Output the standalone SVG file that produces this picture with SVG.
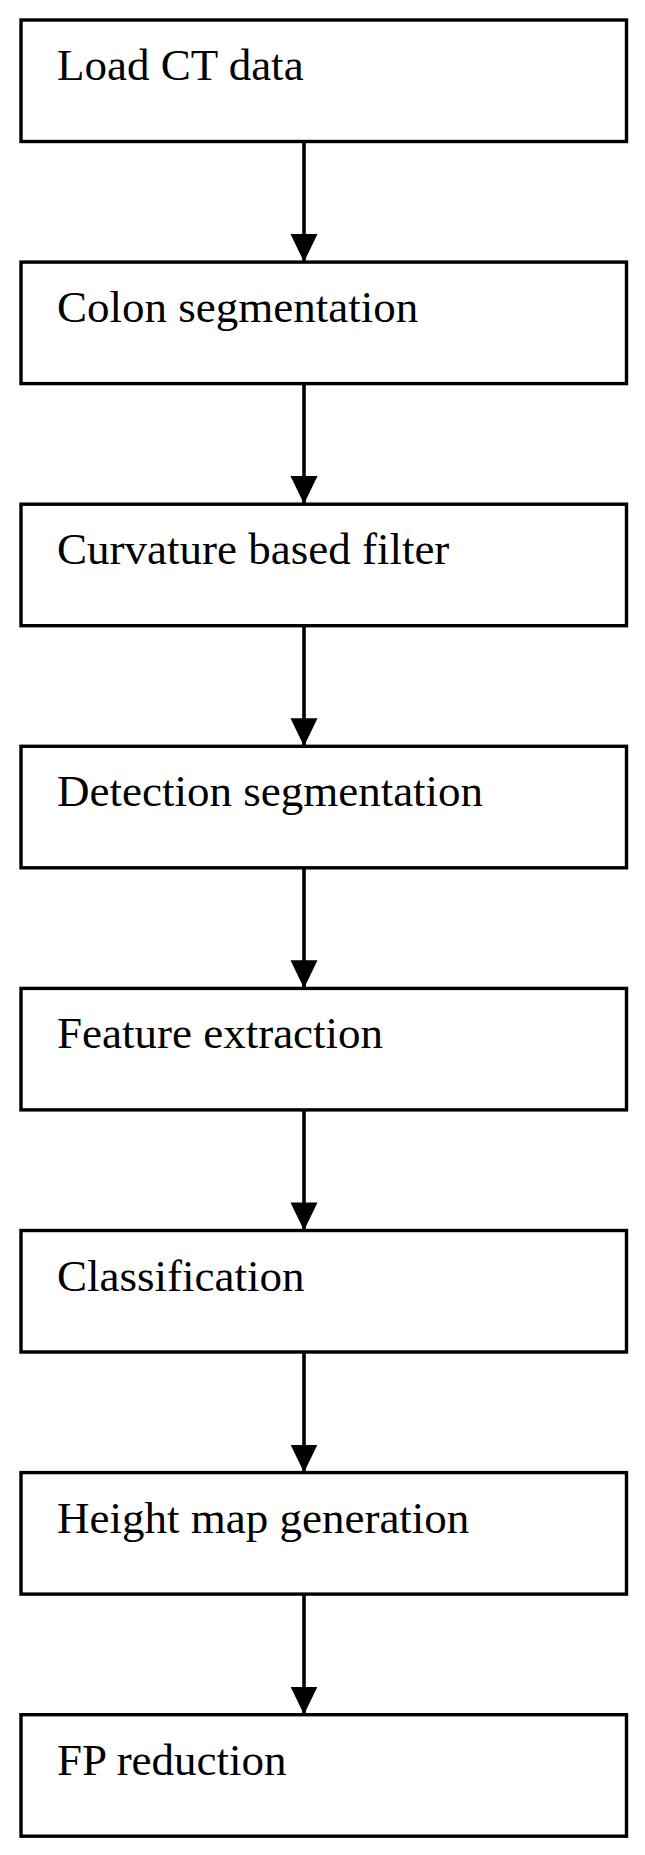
<svg xmlns="http://www.w3.org/2000/svg" width="645" height="1855" viewBox="0 0 645 1855">
<style>
.box{fill:#fff;stroke:#000;stroke-width:3.4}
.lbl{font-family:"Liberation Serif","Times New Roman",serif;font-size:45px;fill:#000}
.con{stroke:#000;stroke-width:3.6;fill:none}
</style>
<defs>
<marker id="ah" markerUnits="userSpaceOnUse" markerWidth="29" markerHeight="30" refX="28" refY="13.5" orient="auto" viewBox="0 0 29 27">
<path d="M0,0 L28,13.5 L0,27 Z" fill="#000"/>
</marker>
</defs>
<rect width="645" height="1855" fill="#fff"/>
<g id="connectors">
<line class="con" x1="304" y1="141.5" x2="304" y2="262" marker-end="url(#ah)"/>
<line class="con" x1="304" y1="383.6" x2="304" y2="504.1" marker-end="url(#ah)"/>
<line class="con" x1="304" y1="625.7" x2="304" y2="746.2" marker-end="url(#ah)"/>
<line class="con" x1="304" y1="867.8" x2="304" y2="988.3" marker-end="url(#ah)"/>
<line class="con" x1="304" y1="1109.9" x2="304" y2="1230.4" marker-end="url(#ah)"/>
<line class="con" x1="304" y1="1352" x2="304" y2="1472.5" marker-end="url(#ah)"/>
<line class="con" x1="304" y1="1594.1" x2="304" y2="1714.6" marker-end="url(#ah)"/>
</g>
<g id="n1"><rect class="box" x="21" y="20" width="605.5" height="121.5"/><text class="lbl" x="57" y="80">Load CT data</text></g>
<g id="n2"><rect class="box" x="21" y="262.1" width="605.5" height="121.5"/><text class="lbl" x="57" y="322.1">Colon segmentation</text></g>
<g id="n3"><rect class="box" x="21" y="504.2" width="605.5" height="121.5"/><text class="lbl" x="57" y="564.2">Curvature based filter</text></g>
<g id="n4"><rect class="box" x="21" y="746.3" width="605.5" height="121.5"/><text class="lbl" x="57" y="806.3">Detection segmentation</text></g>
<g id="n5"><rect class="box" x="21" y="988.4" width="605.5" height="121.5"/><text class="lbl" x="57" y="1048.4">Feature extraction</text></g>
<g id="n6"><rect class="box" x="21" y="1230.5" width="605.5" height="121.5"/><text class="lbl" x="57" y="1290.5">Classification</text></g>
<g id="n7"><rect class="box" x="21" y="1472.6" width="605.5" height="121.5"/><text class="lbl" x="57" y="1532.6">Height map generation</text></g>
<g id="n8"><rect class="box" x="21" y="1714.7" width="605.5" height="121.5"/><text class="lbl" x="57" y="1774.7">FP reduction</text></g>
</svg>
